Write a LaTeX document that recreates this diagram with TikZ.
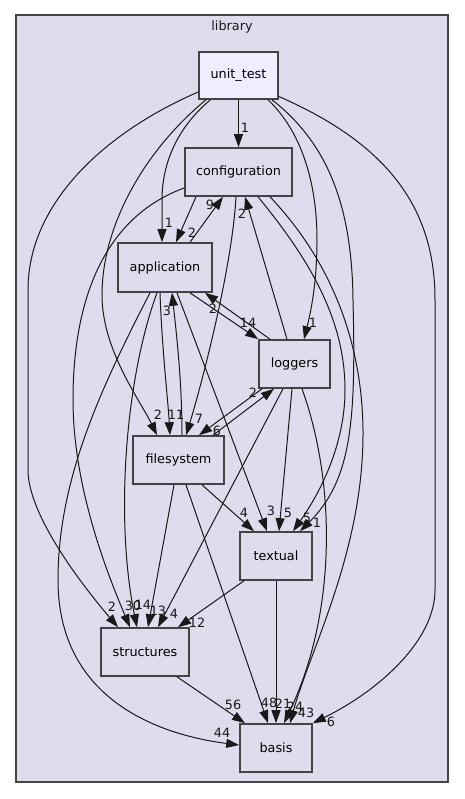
\documentclass[tikz,border=0pt]{standalone}
\usepackage{fontspec}
\setmainfont{DejaVu Sans}
\usetikzlibrary{arrows.meta,calc}
\definecolor{clfill}{HTML}{DDDDEE}
\definecolor{curfill}{HTML}{EEEEFF}
\definecolor{bord}{HTML}{444444}
\tikzset{
  dirbox/.style={draw=bord, line width=1.6pt, fill=clfill, inner sep=0pt,
    font=\fontsize{12.8}{14}\selectfont},
  curbox/.style={dirbox, fill=curfill},
  dep/.style={draw=black!90, line width=1pt, -{Triangle[length=13pt,width=9pt]}},
  lbl/.style={font=\fontsize{12.8}{14}\selectfont, inner sep=0pt, text=black!90},
}
\begin{document}
\begin{tikzpicture}[x=1pt,y=-1pt]
\useasboundingbox (0,0) rectangle (464,799);
\fill[white] (0,0) rectangle (464,799);
% cluster
\draw[draw=bord, line width=1.6pt, fill=clfill] (16,15) rectangle (448,782);
\node[lbl] (libl) at (232,27) {library};
% nodes
\node[curbox, minimum width=79pt, minimum height=47pt] (ut) at (238.5,75.5) {unit\_test};
\node[dirbox, minimum width=107pt, minimum height=48pt] (cfg) at (238.5,172) {configuration};
\node[dirbox, minimum width=94pt, minimum height=49pt] (app) at (165,267.5) {application};
\node[dirbox, minimum width=71pt, minimum height=48pt] (log) at (294.5,364) {loggers};
\node[dirbox, minimum width=91pt, minimum height=48pt] (fs) at (178.5,460) {filesystem};
\node[dirbox, minimum width=72pt, minimum height=48pt] (tx) at (276,556) {textual};
\node[dirbox, minimum width=88pt, minimum height=48pt] (st) at (145,652) {structures};
\node[dirbox, minimum width=72pt, minimum height=48pt] (ba) at (276,748) {basis};
% edges from unit_test
\draw[dep] (ut.south) -- (cfg.north);
\draw[dep] ($(ut.south)+(-28,0)$) .. controls (180,125) and (162,160) .. (162,200) -- ($(app.north)+(-3,0)$);
\draw[dep] ($(ut.south)+(-32.5,0)$) .. controls (145,150) and (102,225) .. (102,295) .. controls (102,350) and (140,400) .. ($(fs.north)+(-21.5,0)$);
\draw[dep] ($(ut.west)+(0,16.5)$) .. controls (110,130) and (28,200) .. (28,290) -- (28,470) .. controls (28,515) and (82,585) .. ($(st.north)+(-27,0)$);
\draw[dep] ($(ut.south)+(29.5,0)$) .. controls (300,130) and (317,180) .. (317,240) .. controls (317,285) and (310,315) .. ($(log.north)+(9.5,0)$);
\draw[dep] ($(ut.south)+(33.5,0)$) .. controls (330,145) and (352,210) .. (353,300) .. controls (356,420) and (352,480) .. ($(tx.north)+(24,0)$);
\draw[dep] ($(ut.east)+(0,21)$) .. controls (390,145) and (435,210) .. (435,300) -- (435,590) .. controls (435,640) and (380,690) .. (ba.north east);
% configuration / application
\draw[dep] ($(cfg.south)+(-42.5,0)$) -- ($(app.north)+(11,0)$);
\draw[dep] ($(app.north)+(25,0)$) -- ($(cfg.south)+(-15.5,0)$);
\draw[dep] ($(log.north)+(-7.5,0)$) -- ($(cfg.south)+(6.5,0)$);
\draw[dep] ($(cfg.south)+(-2.5,0)$) .. controls (232,270) and (200,390) .. ($(fs.north)+(7.5,0)$);
\draw[dep] ($(cfg.south)+(19.5,0)$) .. controls (310,260) and (345,320) .. (345,390) .. controls (345,450) and (315,500) .. ($(tx.north)+(17,0)$);
\draw[dep] ($(cfg.south)+(31.5,0)$) .. controls (330,260) and (362,340) .. (363,430) .. controls (364,550) and (310,650) .. ($(ba.north)+(14,0)$);
\draw[dep] ($(cfg.west)+(0,16)$) .. controls (110,215) and (73,290) .. (73,400) .. controls (73,490) and (110,580) .. ($(st.north)+(-15,0)$);
\draw[dep] ($(app.south)+(-5,0)$) .. controls (162,350) and (168,400) .. ($(fs.north)+(-8.5,0)$);
\draw[dep] ($(fs.north)+(3.5,0)$) .. controls (182,380) and (176,330) .. ($(app.south)+(7,0)$);
\draw[dep] ($(app.south)+(12,0)$) -- ($(tx.north)+(-9,0)$);
\draw[dep] ($(app.south)+(25,0)$) -- (log.north west);
\draw[dep] ($(log.north)+(-24.5,0)$) -- ($(app.south)+(40,0)$);
\draw[dep] ($(app.south)+(-8,0)$) .. controls (125,380) and (115,520) .. ($(st.north)+(-8,0)$);
\draw[dep] ($(app.south)+(-15,0)$) .. controls (100,390) and (58,480) .. (58,580) .. controls (58,700) and (160,735) .. ($(ba.west)+(0,-3)$);
% loggers / filesystem
\draw[dep] ($(log.south)+(-32.5,0)$) -- ($(fs.north)+(20.5,0)$);
\draw[dep] ($(fs.north)+(34.5,0)$) -- ($(log.south)+(-20.5,0)$);
\draw[dep] ($(log.south)+(-11.5,0)$) -- ($(st.north)+(13,0)$);
\draw[dep] ($(log.south)+(-2.5,0)$) -- ($(tx.north)+(3,0)$);
\draw[dep] ($(log.south)+(7.5,0)$) .. controls (335,480) and (338,610) .. ($(ba.north)+(8,0)$);
\draw[dep] ($(fs.south)+(23.5,0)$) -- ($(tx.north)+(-22,0)$);
\draw[dep] ($(fs.south)+(-4.5,0)$) -- ($(st.north)+(3,0)$);
\draw[dep] ($(fs.south)+(7.5,0)$) -- ($(ba.north)+(-8,0)$);
\draw[dep] ($(tx.south)+(-32,0)$) -- ($(st.north)+(33,0)$);
\draw[dep] (tx.south) -- (ba.north);
\draw[dep] ($(st.south)+(32,0)$) -- ($(ba.north)+(-31,0)$);
% labels
\node[lbl] (l01) at (245,128) {1};
\node[lbl] (l02) at (169,223) {1};
\node[lbl] (l03) at (210,205) {9};
\node[lbl] (l04) at (192,233) {2};
\node[lbl] (l05) at (242,214) {2};
\node[lbl] (l06) at (167,311) {3};
\node[lbl] (l07) at (213,309) {2};
\node[lbl] (l08) at (248,323) {14};
\node[lbl] (l09) at (313,323) {1};
\node[lbl] (l10) at (253,393) {2};
\node[lbl] (l11) at (158,415) {2};
\node[lbl] (l12) at (176,415) {11};
\node[lbl] (l13) at (199,419) {7};
\node[lbl] (l14) at (217,431) {6};
\node[lbl] (l15) at (244,513) {4};
\node[lbl] (l16) at (271,511) {3};
\node[lbl] (l17) at (288,513) {5};
\node[lbl] (l18) at (307,518) {5};
\node[lbl] (l19) at (317,523) {1};
\node[lbl] (l20) at (112,607) {2};
\node[lbl] (l21) at (133,606) {30};
\node[lbl] (l22) at (143,605) {14};
\node[lbl] (l23) at (158,611) {13};
\node[lbl] (l24) at (174,614) {4};
\node[lbl] (l25) at (197,623) {12};
\node[lbl] (l26) at (233,705) {56};
\node[lbl] (l27) at (269,703) {48};
\node[lbl] (l28) at (283,704) {21};
\node[lbl] (l29) at (295,707) {24};
\node[lbl] (l30) at (306,713) {43};
\node[lbl] (l31) at (331,722) {6};
\node[lbl] (l32) at (222,733) {44};
\end{tikzpicture}
\end{document}
